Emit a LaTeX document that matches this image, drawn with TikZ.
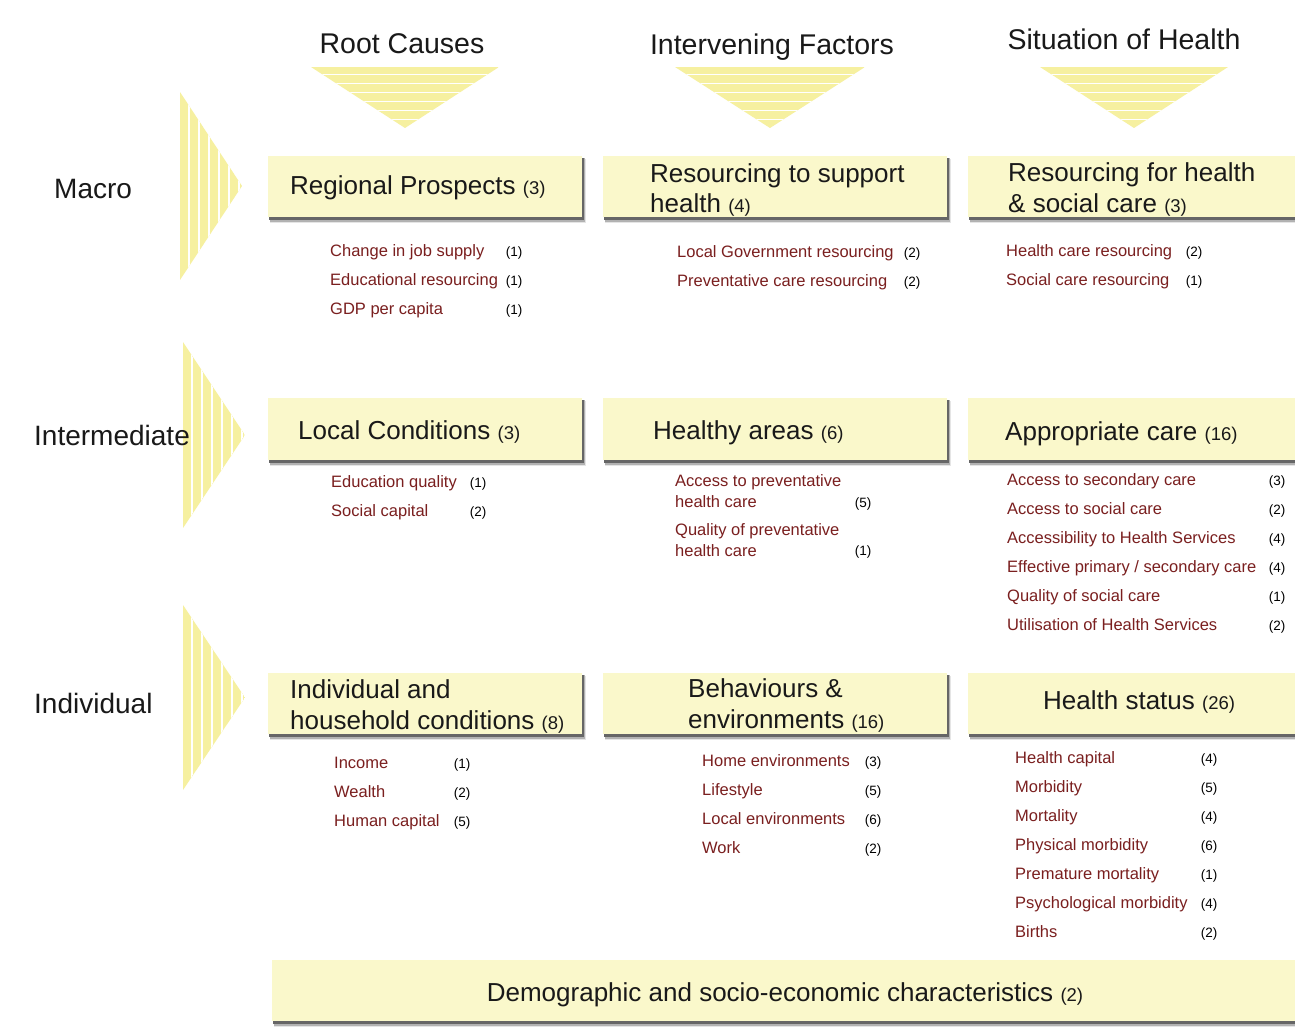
\documentclass[tikz,border=0pt]{standalone}
\usepackage{fontspec}
\setmainfont{Liberation Sans}
\definecolor{boxfill}{HTML}{FAF8CB}
\definecolor{tri}{HTML}{F6F0A0}
\definecolor{itemred}{HTML}{7A1F1F}
\tikzset{
  hdr/.style={font=\fontsize{28.5}{32}\selectfont, inner sep=0pt, anchor=base, text=black!90},
  rowlbl/.style={font=\fontsize{28}{32}\selectfont, inner sep=0pt, anchor=base west, text=black!90},
  ttl/.style={font=\fontsize{26}{30}\selectfont, inner sep=0pt, anchor=base west, text=black!90},
  item/.style={font=\fontsize{16.5}{20}\selectfont, text=itemred, inner sep=0pt, anchor=base west},
  cnt/.style={font=\fontsize{13.5}{15}\selectfont, inner sep=0pt, anchor=base, text=black},
  boxnode/.style={fill=boxfill, draw=none, inner sep=0pt, anchor=north west},
}
\newcommand\sm[1]{{\fontsize{18.5}{20}\selectfont #1}}
\newcommand\mkbox[5]{%
  \fill[black!10] (#2+2,#3+3) rectangle (#4+3.5,#5+6);
  \fill[black!30] (#2+1.5,#3+2) rectangle (#4+2.5,#5+4.5);
  \fill[black!60] (#2+1,#3+1.5) rectangle (#4+1.5,#5+3);
  \node[boxnode, minimum width={#4-#2}, minimum height={#5-#3}] (#1) at (#2,#3) {};
}
\newcommand\downtri[4]{%
  \begin{scope}
    \clip (#1,#3) -- (#2,#3) -- ({(#1+#2)/2},#4) -- cycle;
    \fill[tri] (#1,#3) rectangle (#2,#4);
    \foreach \k in {0,...,5} \draw[white, line width=1.7pt] (#1,#3+7.5+9*\k) -- (#2,#3+7.5+9*\k);
  \end{scope}}
\newcommand\righttri[4]{%
  \begin{scope}
    \clip (#1,#2) -- (#1,#3) -- (#4,{(#2+#3)/2}) -- cycle;
    \fill[tri] (#1,#2) rectangle (#4,#3);
    \foreach \k in {0,...,5} \draw[white, line width=1.9pt] (#1+9+10*\k,#2) -- (#1+9+10*\k,#3);
  \end{scope}}
\begin{document}
\begin{tikzpicture}[x=1pt,y=-1pt]
\fill[white] (0,0) rectangle (1295,1026);
\useasboundingbox (0,0) rectangle (1295,1026);

% column headers
\node[hdr] (hroot) at (402,53) {Root Causes};
\node[hdr] (hint) at (772,54) {Intervening Factors};
\node[hdr] (hsit) at (1124,49) {Situation of Health};
\downtri{311}{499}{67}{128}
\downtri{675}{865}{67}{128}
\downtri{1040}{1228}{67}{128}

% row chevrons and labels
\righttri{180}{92}{280}{242}
\righttri{183}{342}{528}{245}
\righttri{183}{605}{790}{245}
\node[rowlbl] (rmacro) at (54,198) {Macro};
\node[rowlbl] (rinter) at (34,445) {Intermediate};
\node[rowlbl] (rindiv) at (34,713) {Individual};

% boxes
\mkbox{b11}{268}{156}{582}{217}
\mkbox{b12}{603}{156}{947}{217}
\mkbox{b13}{968}{156}{1300}{217}
\mkbox{b21}{268}{398}{582}{460}
\mkbox{b22}{603}{398}{947}{460}
\mkbox{b23}{968}{398}{1300}{460}
\mkbox{b31}{268}{673}{582}{734}
\mkbox{b32}{603}{673}{947}{734}
\mkbox{b33}{968}{673}{1300}{734}
\mkbox{b41}{272}{960}{1300}{1021}

% titles
\node[ttl] (t11) at (290,194) {Regional Prospects \sm{(3)}};
\node[ttl] (t12a) at (650,182) {Resourcing to support};
\node[ttl] (t12b) at (650,212) {health \sm{(4)}};
\node[ttl] (t13a) at (1008,181) {Resourcing for health};
\node[ttl] (t13b) at (1008,212) {\& social care \sm{(3)}};
\node[ttl] (t21) at (298,439) {Local Conditions \sm{(3)}};
\node[ttl] (t22) at (653,439) {Healthy areas \sm{(6)}};
\node[ttl] (t23) at (1005,440) {Appropriate care \sm{(16)}};
\node[ttl] (t31a) at (290,698) {Individual and};
\node[ttl] (t31b) at (290,729) {household conditions \sm{(8)}};
\node[ttl] (t32a) at (688,697) {Behaviours \&};
\node[ttl] (t32b) at (688,728) {environments \sm{(16)}};
\node[ttl] (t33) at (1043,709) {Health status \sm{(26)}};
\node[ttl, anchor=base] (t41) at (785,1001) {Demographic and socio-economic characteristics \sm{(2)}};

% items
\foreach \t/\c [count=\i from 0] in {Change in job supply/1, Educational resourcing/1, GDP per capita/1}{
  \node[item] (i11-\i) at (330,256+29*\i) {\t};
  \node[cnt] (c11-\i) at (514,256+29*\i) {(\c)};}
\foreach \t/\c [count=\i from 0] in {Local Government resourcing/2, Preventative care resourcing/2}{
  \node[item] (i12-\i) at (677,257+29*\i) {\t};
  \node[cnt] (c12-\i) at (912,257+29*\i) {(\c)};}
\foreach \t/\c [count=\i from 0] in {Health care resourcing/2, Social care resourcing/1}{
  \node[item] (i13-\i) at (1006,256+29*\i) {\t};
  \node[cnt] (c13-\i) at (1194,256+29*\i) {(\c)};}
\foreach \t/\c [count=\i from 0] in {Education quality/1, Social capital/2}{
  \node[item] (i21-\i) at (331,487+29*\i) {\t};
  \node[cnt] (c21-\i) at (478,487+29*\i) {(\c)};}
\node[item] (i22-0a) at (675,486) {Access to preventative};
\node[item] (i22-0b) at (675,507) {health care};
\node[cnt] (c22-0) at (863,507) {(5)};
\node[item] (i22-1a) at (675,535) {Quality of preventative};
\node[item] (i22-1b) at (675,556) {health care};
\node[cnt] (c22-1) at (863,555) {(1)};
\foreach \t/\c [count=\i from 0] in {Access to secondary care/3, Access to social care/2, Accessibility to Health Services/4, {Effective primary / secondary care}/4, Quality of social care/1, Utilisation of Health Services/2}{
  \node[item] (i23-\i) at (1007,485+29*\i) {\t};
  \node[cnt] (c23-\i) at (1277,485+29*\i) {(\c)};}
\foreach \t/\c [count=\i from 0] in {Income/1, Wealth/2, Human capital/5}{
  \node[item] (i31-\i) at (334,768+29*\i) {\t};
  \node[cnt] (c31-\i) at (462,768+29*\i) {(\c)};}
\foreach \t/\c [count=\i from 0] in {Home environments/3, Lifestyle/5, Local environments/6, Work/2}{
  \node[item] (i32-\i) at (702,766+29*\i) {\t};
  \node[cnt] (c32-\i) at (873,766+29*\i) {(\c)};}
\foreach \t/\c [count=\i from 0] in {Health capital/4, Morbidity/5, Mortality/4, Physical morbidity/6, Premature mortality/1, Psychological morbidity/4, Births/2}{
  \node[item] (i33-\i) at (1015,763+29*\i) {\t};
  \node[cnt] (c33-\i) at (1209,763+29*\i) {(\c)};}
\end{tikzpicture}
\end{document}
